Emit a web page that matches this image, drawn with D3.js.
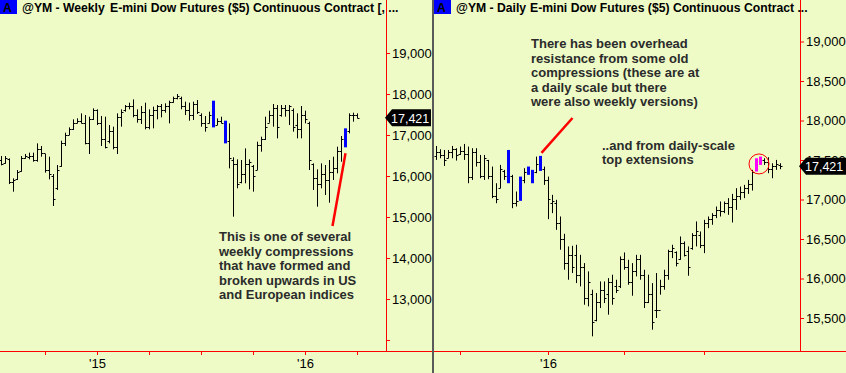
<!DOCTYPE html>
<html lang="en">
<head>
<meta charset="utf-8">
<title>@YM weekly / daily</title>
<style>
	body { margin: 0px; background-color: #eefbc6; overflow: hidden; }
	svg { display: block; }
	text { font-family: "Liberation Sans", Arial, sans-serif; }
	.tick text { font-size: 13px; fill: #000; }
	.tick line { stroke: #ff0000; }
	.note { font-size: 13px; font-weight: bold; fill: #2b2b2b; }
	.title { font-size: 12.2px; font-weight: bold; fill: #000; }
</style>
</head>
<body>
<svg id="chart" width="846" height="373"></svg>
<script src="https://cdn.jsdelivr.net/npm/d3@7/dist/d3.min.js"></script>
<script>
// weekly bars (@YM weekly), one per week
var weeklyHigh = [16487,16487,16430,15943,16146,16487,16536,16569,16569,16796,
	16731,16536,16471,16048,16268,16861,17056,17186,17382,17406,
	17528,17487,17447,17650,17626,17463,17447,17243,17203,17528,
	17626,17731,17788,17869,17626,17707,17788,17626,17691,17731,
	17756,17772,17837,17935,18000,17935,17813,17788,17813,17853,
	17528,17463,17569,17837,17406,17447,17349,17284,16455,16406,
	16390,16674,16406,16268,16837,16959,17447,17593,17756,17731,
	17731,17731,17731,17650,17528,17707,17593,17325,16308,16162,
	16308,16268,16390,16471,16715,16975,17162,17528,17544,17528];
var weeklyLow = [16260,16300,15804,15617,15902,16105,16422,16406,16349,16349,
	16471,16081,15918,15268,15658,16227,16731,16999,17122,17284,
	17284,16772,16536,17366,17243,16731,16674,16796,16650,16536,
	17203,17569,17626,17430,17300,17268,17138,17138,17162,17382,
	17430,17544,17284,17788,17869,17626,17487,17349,17366,17512,
	17203,17081,17284,17186,17243,17284,16796,16186,15008,15699,
	15821,15821,15674,15618,16146,16593,16878,17300,17203,16918,
	17447,17447,17243,17081,16918,16918,17284,16146,15658,15252,
	15699,15536,15349,15902,16065,16349,16699,17040,17325,17406];
var weeklyOpen = [16400,16320,16420,15850,15920,16120,16450,16470,16500,16400,
	16650,16550,16150,16000,15700,16250,16800,17000,17150,17300,
	17350,17300,16800,17400,17600,17300,16900,16850,17100,16700,
	17450,17600,17700,17700,17500,17400,17550,17200,17500,17600,
	17700,17600,17700,17800,17900,17900,17700,17600,17500,17750,
	17500,17300,17300,17800,17250,17350,17300,16850,16400,16300,
	15850,16050,16300,16250,16150,16750,16900,17300,17500,17650,
	17500,17650,17600,17600,17250,17150,17500,17300,16300,15950,
	15800,16050,15900,16100,16200,16600,16800,17100,17500,17480];
var weeklyClose = [16300,16450,15850,15900,16100,16450,16480,16500,16400,16650,
	16550,16150,16050,15450,16150,16800,17000,17150,17300,17350,
	17300,16800,17400,17600,17300,16900,16700,17100,16700,17450,
	17550,17700,17700,17500,17400,17550,17200,17500,17600,17700,
	17600,17700,17800,17900,17950,17700,17600,17500,17750,17550,
	17300,17200,17500,17200,17350,17300,16850,16450,16300,15800,
	16050,16300,16350,16000,16750,16900,17200,17500,17650,17200,
	17650,17600,17700,17200,17150,17500,17400,16400,15950,15800,
	16050,15900,16100,16200,16600,16900,17100,17500,17500,17421];
var weeklyMarked = [53, 56, 86];          // blue compression bars
var weeklyYTicks = [12000,13000,14000,15000,16000,17000,18000,19000];
var weeklyYLabels = [13000,14000,15000,16000,17000,18000,19000];
var weeklyXTicks = [11, 24, 37, 50, 63, 76, 89];
var weeklyXLabels = {24: "'15", 76: "'16"};

// daily bars (@YM daily), one per session
var dailyHigh = [17678,17636,17627,17627,17678,17649,17670,17703,17670,17649,
	17649,17564,17564,17501,17417,17206,17438,17375,17627,17312,
	17101,17290,17396,17417,17375,17543,17552,17417,17290,17059,
	16996,16785,16566,16406,16414,16427,16300,16195,16090,15858,
	15816,15963,15963,16005,16048,15984,16279,16330,16237,16195,
	16300,16300,16111,16048,15942,16069,15984,16111,16364,16427,
	16343,16532,16469,16406,16574,16722,16595,16743,16785,16827,
	16911,16975,16975,17017,17071,17143,17164,17185,17248,17375,
	17522,17543,17522,17535,17459,17501,17459];
var dailyLow = [17501,17522,17425,17522,17522,17493,17564,17501,17206,17248,
	17417,17269,17248,17257,17017,16953,17143,17248,17206,16890,
	16911,16983,17206,17312,17206,17333,17362,17185,16751,16827,
	16616,16364,16111,15984,16069,15942,15900,15668,15647,15268,
	15458,15626,15689,15542,15668,15816,15879,16111,15921,15782,
	16027,15984,15626,15689,15352,15500,15795,15858,15984,16258,
	16153,16237,16279,16035,16364,16406,16385,16321,16637,16680,
	16764,16785,16827,16806,16709,16869,16996,17017,17071,17113,
	17354,17438,17438,17333,17269,17375,17383];
var dailyOpen = [17550,17600,17560,17530,17600,17640,17570,17620,17580,17280,
	17600,17480,17300,17500,17300,17050,17150,17360,17250,17300,
	16950,17000,17250,17330,17360,17350,17400,17380,17250,16950,
	16950,16700,16500,16200,16300,16300,16050,16150,15750,15800,
	15480,15700,15850,15800,15950,15900,15900,16250,16150,15950,
	16100,16250,16050,15700,15800,15600,15600,15900,16050,16350,
	16330,16250,16450,16350,16380,16550,16550,16420,16700,16750,
	16800,16870,16850,16950,16900,17000,17050,17100,17150,17200,
	17380,17480,17500,17480,17380,17420,17440];
var dailyClose = [17600,17560,17500,17600,17640,17560,17620,17580,17280,17600,
	17480,17300,17520,17300,17050,17000,17380,17300,17580,16950,
	16980,17250,17350,17400,17220,17450,17530,17250,17000,16980,
	16700,16500,16200,16300,16150,16050,16150,15750,15950,15450,
	15700,15850,15750,15950,15750,15850,16250,16150,15950,16100,
	16250,16050,15700,15800,15450,15600,15900,16050,16350,16380,
	16200,16450,16300,16150,16550,16600,16420,16700,16750,16800,
	16870,16850,16950,16900,17000,17050,17100,17150,17200,17350,
	17480,17500,17480,17380,17420,17450,17421];
var dailyMarked = [18, 21, 23, 24, 26];   // blue compression bars
var dailyExtension = [80, 81];            // magenta top extensions
var dailyYTicks = [15500,16000,16500,17000,17500,18000,18500,19000];
var dailyXTicks = [6, 28, 47, 67];
var dailyXLabels = {28: "'16"};

var lastPrice = 17421;

var svg = d3.select("#chart");
var fmt = d3.format(",");

svg.append("rect").attr("width", 846).attr("height", 373).attr("fill", "#eefbc6");

function drawPanel(p) {
	var n = p.high.length;
	var x = d3.scaleLinear().domain([0, n - 1]).range(p.xRange);
	var y = d3.scaleLinear().domain(p.yDomain).range(p.yRange);
	var g = svg.append("g");

	// y axis on the right
	var yAxis = d3.axisRight(y)
		.tickValues(p.yTicks)
		.tickSize(4)
		.tickPadding(2)
		.tickFormat(function(d) { return p.yLabels.indexOf(d) >= 0 ? fmt(d) : ""; });
	var ya = g.append("g").attr("transform", "translate(" + p.axisX + ",0)").call(yAxis);
	ya.select(".domain").remove();

	// x axis along the bottom
	var xAxis = d3.axisBottom(x)
		.tickValues(p.xTicks)
		.tickSize(4)
		.tickPadding(4)
		.tickFormat(function(d) { return p.xLabels[d] || ""; });
	var xa = g.append("g").attr("transform", "translate(0," + p.axisY + ")").call(xAxis);
	xa.select(".domain").remove();

	g.append("line").attr("x1", p.axisX + 0.5).attr("x2", p.axisX + 0.5)
		.attr("y1", 0).attr("y2", p.axisY).attr("stroke", "#ff0000");
	g.append("line").attr("x1", p.left).attr("x2", p.right)
		.attr("y1", p.axisY + 0.5).attr("y2", p.axisY + 0.5).attr("stroke", "#ff0000");

	// OHLC bars
	var idx = d3.range(n);
	var plain = idx.filter(function(i) { return p.colored[i] === undefined; });
	var bars = g.append("g").attr("stroke", "#000").attr("stroke-width", 1);
	plain.forEach(function(i) {
		var cx = Math.round(x(i)) + 0.5;
		bars.append("line").attr("x1", cx).attr("x2", cx)
			.attr("y1", y(p.high[i])).attr("y2", y(p.low[i]));
		bars.append("line").attr("x1", cx - 2).attr("x2", cx)
			.attr("y1", Math.round(y(p.open[i])) + 0.5).attr("y2", Math.round(y(p.open[i])) + 0.5);
		bars.append("line").attr("x1", cx).attr("x2", cx + 2)
			.attr("y1", Math.round(y(p.close[i])) + 0.5).attr("y2", Math.round(y(p.close[i])) + 0.5);
	});
	idx.filter(function(i) { return p.colored[i] !== undefined; }).forEach(function(i) {
		g.append("rect")
			.attr("x", Math.round(x(i)) - 1).attr("width", 3)
			.attr("y", y(p.high[i])).attr("height", y(p.low[i]) - y(p.high[i]))
			.attr("fill", p.colored[i]);
	});

	// last price tag
	var ty = y(lastPrice);
	var tx = p.axisX - 1;
	g.append("path")
		.attr("d", "M" + tx + "," + ty + "L" + (tx + 7) + "," + (ty - 8.5) + "H" + (tx + p.tagW) +
			"V" + (ty + 8.5) + "H" + (tx + 7) + "Z")
		.attr("fill", "#000");
	g.append("text").attr("x", tx + 6).attr("y", ty + 5)
		.attr("font-size", 12.5).attr("fill", "#fff").text(fmt(lastPrice));

	// title
	g.append("rect").attr("x", p.left).attr("y", 0).attr("width", 17).attr("height", 14).attr("fill", "#0000ff");
	g.append("text").attr("class", "title").attr("x", p.left + 3).attr("y", 12).text("A");
	g.append("text").attr("class", "title").attr("x", p.left + 22).attr("y", 12).text(p.name);
	g.append("text").attr("class", "title").attr("x", p.left + p.titleX).attr("y", 12).text(p.title);

	return { x: x, y: y };
}

function colorMap(list, color, into) {
	list.forEach(function(i) { into[i] = color; });
	return into;
}

var weekly = drawPanel({
	high: weeklyHigh, low: weeklyLow, open: weeklyOpen, close: weeklyClose,
	colored: colorMap(weeklyMarked, "#0000ff", {}),
	xRange: [1, 357], yDomain: [12000, 19000], yRange: [340, 53],
	yTicks: weeklyYTicks, yLabels: weeklyYLabels,
	xTicks: weeklyXTicks, xLabels: weeklyXLabels,
	axisX: 386, axisY: 351, left: 0, right: 432, tagW: 46, titleX: 110,
	name: "@YM - Weekly", title: "E-mini Dow Futures ($5) Continuous Contract [, ..."
});

var daily = drawPanel({
	high: dailyHigh, low: dailyLow, open: dailyOpen, close: dailyClose,
	colored: colorMap(dailyExtension, "#ff00ff", colorMap(dailyMarked, "#0000ff", {})),
	xRange: [436, 780], yDomain: [15500, 19000], yRange: [318, 41.5],
	yTicks: dailyYTicks, yLabels: dailyYTicks,
	xTicks: dailyXTicks, xLabels: dailyXLabels,
	axisX: 800, axisY: 351, left: 434, right: 846, tagW: 47, titleX: 96,
	name: "@YM - Daily", title: "E-mini Dow Futures ($5) Continuous Contract  ..."
});

// panel divider
svg.append("rect").attr("x", 432).attr("y", 0).attr("width", 2).attr("height", 373).attr("fill", "#5a5a5a");

// annotations
function note(x0, y0, lines) {
	var t = svg.append("text").attr("class", "note");
	lines.forEach(function(s, k) {
		t.append("tspan").attr("x", x0).attr("y", y0 + k * 14.6).text(s);
	});
}

note(219, 241, ["This is one of several", "weekly compressions", "that have formed and",
	"broken upwards in US", "and European indices"]);
svg.append("line")
	.attr("x1", weekly.x(86) + 0.5).attr("y1", weekly.y(weeklyLow[86]) + 6)
	.attr("x2", 332.5).attr("y2", 226)
	.attr("stroke", "#ff0000").attr("stroke-width", 2.5);

note(531, 48, ["There has been overhead", "resistance from some old", "compressions (these are at",
	"a daily scale but there", "were also weekly versions)"]);
svg.append("line")
	.attr("x1", daily.x(26) + 1.5).attr("y1", daily.y(dailyHigh[26]) - 3)
	.attr("x2", 572.5).attr("y2", 118)
	.attr("stroke", "#ff0000").attr("stroke-width", 2.5);

note(602, 149.5, ["..and from daily-scale", "top extensions"]);
svg.append("circle")
	.attr("cx", (daily.x(80) + daily.x(81)) / 2 + 1).attr("cy", daily.y(17450))
	.attr("r", 10).attr("fill", "none").attr("stroke", "#ff0000").attr("stroke-width", 1);
</script>
</body>
</html>
